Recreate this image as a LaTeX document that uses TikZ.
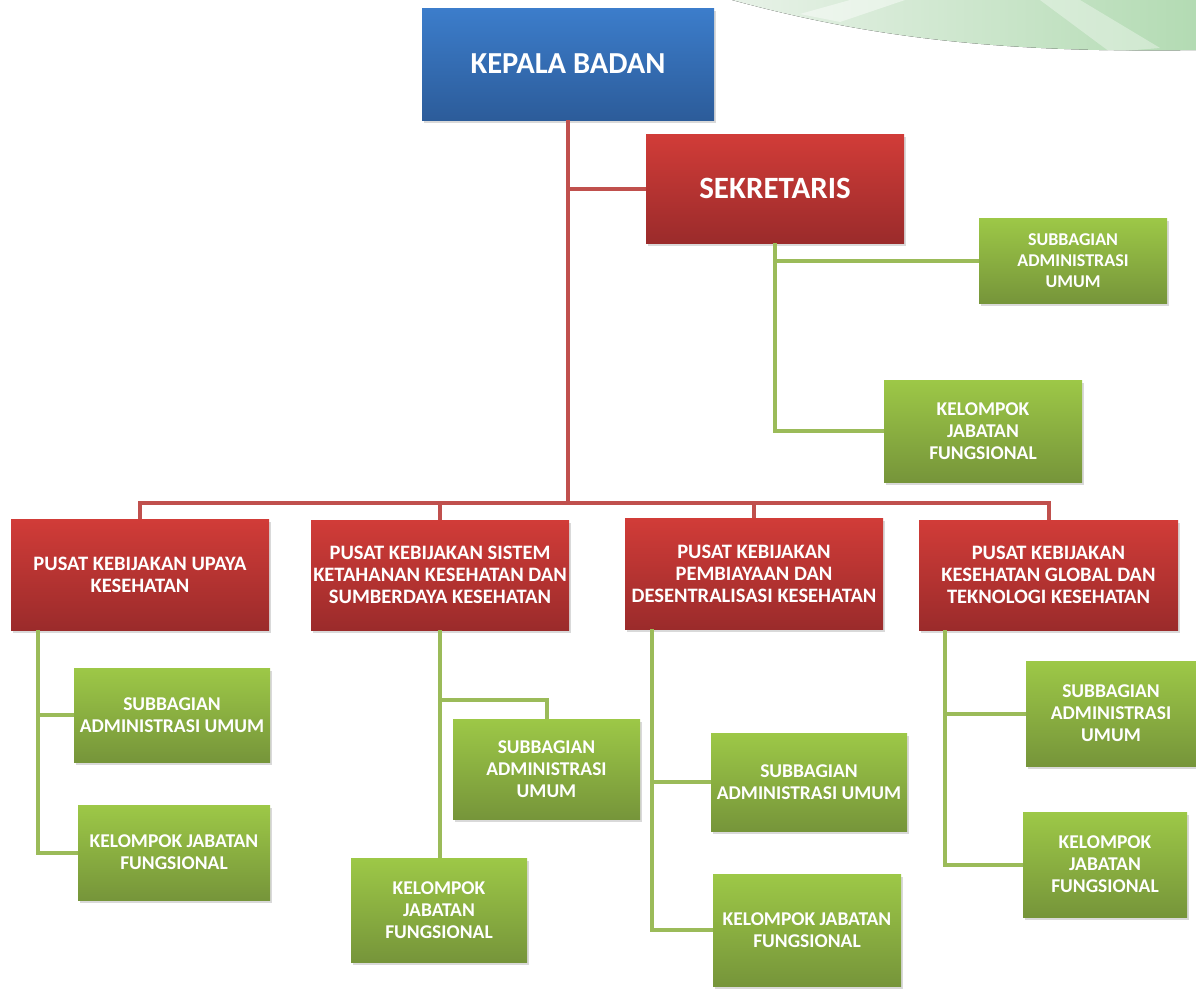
\documentclass[tikz,border=0pt]{standalone}
\usepackage{fontspec}
\setmainfont{Carlito}
\usetikzlibrary{shadows}

\definecolor{bluetop}{HTML}{3C7DCB}
\definecolor{bluebot}{HTML}{2C5C9A}
\definecolor{redtop}{HTML}{D13C38}
\definecolor{redbot}{HTML}{9B2B2B}
\definecolor{greentop}{HTML}{9DC847}
\definecolor{greenbot}{HTML}{76953A}
\definecolor{redln}{HTML}{C0504D}
\definecolor{greenln}{HTML}{9BBB59}
\definecolor{swooshA}{HTML}{E8F2E8}
\definecolor{swooshB}{HTML}{B3DBB3}

\begin{document}
\begin{tikzpicture}[x=1pt,y=-1pt,
  box/.style={rectangle,inner sep=2pt,align=center,text=white,font=\bfseries,
    drop shadow={shadow xshift=1.5pt,shadow yshift=-2.5pt,opacity=0.3}},
  blue node/.style={box,top color=bluetop,bottom color=bluebot,font=\bfseries\fontsize{30.5}{34}\selectfont},
  red node/.style={box,top color=redtop,bottom color=redbot,font=\bfseries\fontsize{20.5}{22}\selectfont},
  green node/.style={box,top color=greentop,bottom color=greenbot,font=\bfseries\fontsize{19.5}{22}\selectfont},
  red line/.style={draw=redln,line width=4pt},
  green line/.style={draw=greenln,line width=4pt},
  vh/.style={to path={|- (\tikztotarget)}},
  hv/.style={to path={-| (\tikztotarget)}}]

  \useasboundingbox (0,0) rectangle (1196,988);

  % swoosh top right
  \fill[left color=swooshA,right color=swooshB]
    (732,0) .. controls (850,32) and (980,54) .. (1196,50) -- (1196,0) -- cycle;
  \fill[white,opacity=0.45] (850,0) -- (905,0) -- (840,22) -- (800,14) -- cycle;
  \fill[white,opacity=0.35] (1040,0) -- (1080,0) -- (1160,48) -- (1110,52) -- cycle;

  \node[blue node,minimum width=292pt,minimum height=112pt] (kepala) at (568,64) {KEPALA BADAN};
  \node[red node,minimum width=258pt,minimum height=109pt,font=\bfseries\fontsize{31}{34}\selectfont] (sek) at (775,188.5) {SEKRETARIS};
  \node[green node,minimum width=188pt,minimum height=85pt,font=\bfseries\fontsize{18}{21}\selectfont] (seksub) at (1073,260.5) {SUBBAGIAN\\ADMINISTRASI\\UMUM};
  \node[green node,minimum width=198pt,minimum height=102pt] (sekkel) at (983,431) {KELOMPOK\\JABATAN\\FUNGSIONAL};

  \node[red node,minimum width=258pt,minimum height=111pt] (p1) at (140,574.5) {PUSAT KEBIJAKAN UPAYA\\KESEHATAN};
  \node[red node,minimum width=258pt,minimum height=110pt] (p2) at (440,575) {PUSAT KEBIJAKAN SISTEM\\KETAHANAN KESEHATAN DAN\\SUMBERDAYA KESEHATAN};
  \node[red node,minimum width=258pt,minimum height=111pt] (p3) at (754,573.5) {PUSAT KEBIJAKAN\\PEMBIAYAAN DAN\\DESENTRALISASI KESEHATAN};
  \node[red node,minimum width=259pt,minimum height=110pt] (p4) at (1048.5,575) {PUSAT KEBIJAKAN\\KESEHATAN GLOBAL DAN\\TEKNOLOGI KESEHATAN};

  \node[green node,minimum width=196pt,minimum height=94pt] (p1sub) at (172,715) {SUBBAGIAN\\ADMINISTRASI UMUM};
  \node[green node,minimum width=192pt,minimum height=95pt] (p1kel) at (174,852.5) {KELOMPOK JABATAN\\FUNGSIONAL};
  \node[green node,minimum width=187pt,minimum height=100pt] (p2sub) at (546.5,769) {SUBBAGIAN\\ADMINISTRASI\\UMUM};
  \node[green node,minimum width=176pt,minimum height=104pt] (p2kel) at (439,910) {KELOMPOK\\JABATAN\\FUNGSIONAL};
  \node[green node,minimum width=196pt,minimum height=98pt] (p3sub) at (809,782) {SUBBAGIAN\\ADMINISTRASI UMUM};
  \node[green node,minimum width=188pt,minimum height=112pt] (p3kel) at (807,930) {KELOMPOK JABATAN\\FUNGSIONAL};
  \node[green node,minimum width=170pt,minimum height=105pt] (p4sub) at (1111,713.5) {SUBBAGIAN\\ADMINISTRASI\\UMUM};
  \node[green node,minimum width=164pt,minimum height=105pt] (p4kel) at (1105,864.5) {KELOMPOK\\JABATAN\\FUNGSIONAL};

  \coordinate (bus) at (568,503);
  \coordinate (p1x) at (38,630);
  \coordinate (p2j) at (440,700);
  \coordinate (p3x) at (652,629);
  \coordinate (p4x) at (945,630);

  \path[red line]
    (kepala.south) edge (bus)
    (kepala.south |- sek.west) edge (sek.west)
    (p1.north) edge[vh] (bus)
    (p2.north) edge (p2.north |- bus)
    (p3.north) edge (p3.north |- bus)
    (bus) edge[hv] (p4.north)
    ;
  \path[green line]
    (sek.south) edge[vh] (sekkel.west)
    (sek.south |- seksub.west) edge (seksub.west)
    (p1x) edge[vh] (p1kel.west)
    (p1x |- p1sub.west) edge (p1sub.west)
    (p2.south) edge (p2.south |- p2kel.north)
    (p2j) edge[hv] (p2sub.north)
    (p3x) edge[vh] (p3kel.west)
    (p3x |- p3sub.west) edge (p3sub.west)
    (p4x) edge[vh] (p4kel.west)
    (p4x |- p4sub.west) edge (p4sub.west)
    ;
\end{tikzpicture}
\end{document}
